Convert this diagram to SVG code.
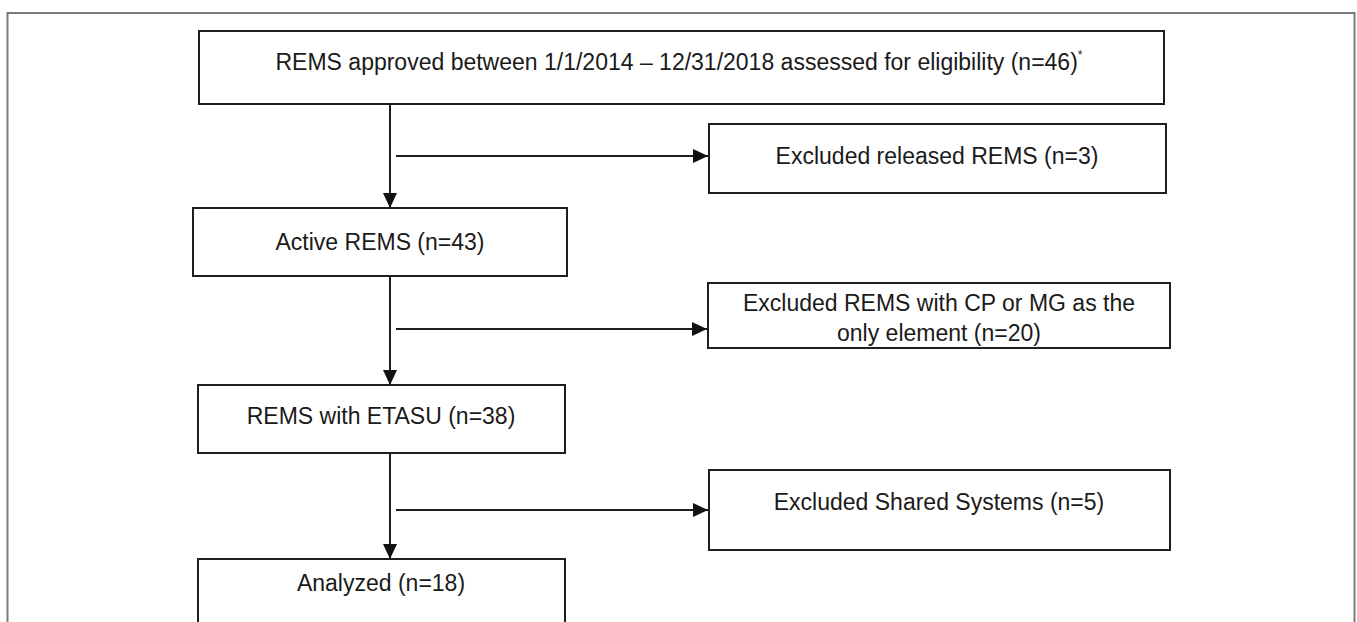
<svg xmlns="http://www.w3.org/2000/svg" width="1357" height="622" viewBox="0 0 1357 622">
<defs>
<style>
.box{fill:#fff;stroke:#1e1e1e;stroke-width:2}
.frame{fill:none;stroke:#7a7a7a;stroke-width:2}
.t{font-family:"Liberation Sans",Arial,sans-serif;font-size:23px;fill:#1a1a1a;text-anchor:middle}
.c{fill:none;stroke:#1e1e1e;stroke-width:2}
</style>
<marker id="ah" viewBox="0 0 15 14" refX="15" refY="7" markerWidth="15" markerHeight="14" markerUnits="userSpaceOnUse" orient="auto">
<path d="M0,0 L15,7 L0,14 Z" fill="#111"/>
</marker>
</defs>
<rect width="1357" height="622" fill="#fff"/>
<rect class="frame" x="7.5" y="13" width="1347" height="640"/>
<g id="n1"><rect class="box" x="199" y="31" width="965" height="73"/><text class="t" x="679" y="70">REMS approved between 1/1/2014 – 12/31/2018 assessed for eligibility (n=46)<tspan font-size="12" dy="-11">*</tspan></text></g>
<g id="n2"><rect class="box" x="709" y="124" width="457" height="69"/><text class="t" x="937" y="164">Excluded released REMS (n=3)</text></g>
<g id="n3"><rect class="box" x="193" y="208" width="374" height="68"/><text class="t" x="380" y="250">Active REMS (n=43)</text></g>
<g id="n4"><rect class="box" x="708" y="283" width="462" height="65"/><text class="t" x="939" y="311">Excluded REMS with CP or MG as the</text><text class="t" x="939" y="341">only element (n=20)</text></g>
<g id="n5"><rect class="box" x="198" y="385" width="367" height="68"/><text class="t" x="381" y="424">REMS with ETASU (n=38)</text></g>
<g id="n6"><rect class="box" x="709" y="470" width="461" height="80"/><text class="t" x="939" y="510">Excluded Shared Systems (n=5)</text></g>
<g id="n7"><rect class="box" x="198" y="559" width="367" height="90"/><text class="t" x="381" y="591">Analyzed (n=18)</text></g>
<g id="connectors">
<line class="c" x1="390" y1="104" x2="390" y2="208" marker-end="url(#ah)"/>
<line class="c" x1="396" y1="156" x2="708" y2="156" marker-end="url(#ah)"/>
<line class="c" x1="390" y1="276" x2="390" y2="385" marker-end="url(#ah)"/>
<line class="c" x1="396" y1="329" x2="707" y2="329" marker-end="url(#ah)"/>
<line class="c" x1="390" y1="453" x2="390" y2="559" marker-end="url(#ah)"/>
<line class="c" x1="396" y1="510" x2="708" y2="510" marker-end="url(#ah)"/>
</g>
</svg>
